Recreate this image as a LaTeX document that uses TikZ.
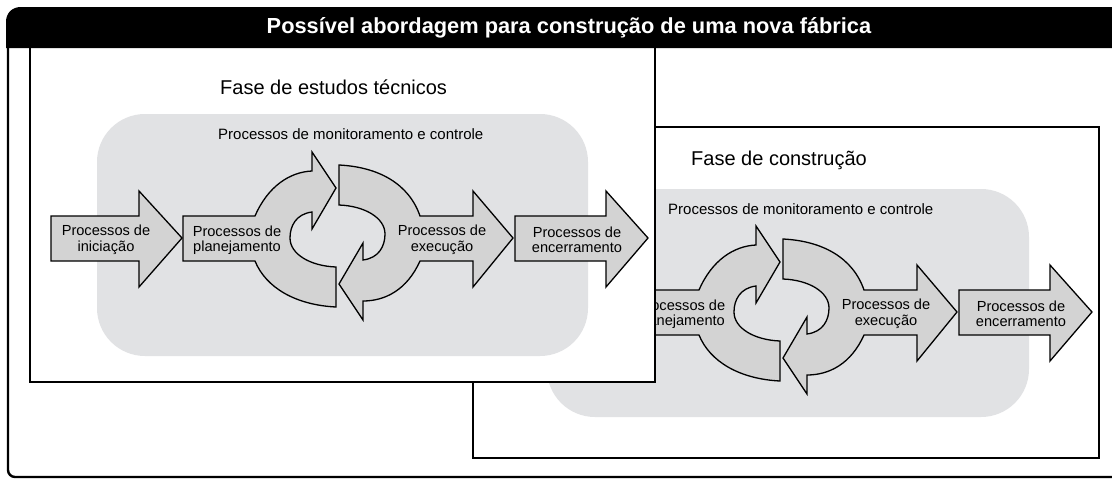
\documentclass[tikz,border=0pt]{standalone}
\usepackage{fontspec}
\setmainfont{Liberation Sans}
\definecolor{zonegray}{HTML}{E1E2E4}
\definecolor{arrowgray}{HTML}{D3D3D3}

\begin{document}
\begin{tikzpicture}[
  x=1pt, y=-1pt, line join=miter,
  frame/.style ={draw=black, line width=2.4pt},
  panel/.style ={draw=black, line width=2pt, fill=white},
  zone/.style  ={fill=zonegray, rounded corners=48},
  arr/.style   ={draw=black, line width=1.3pt, fill=arrowgray},
  lbl/.style   ={align=center, inner sep=0pt, font=\fontsize{14.6}{15.5}\selectfont},
  montxt/.style={anchor=west, inner sep=0pt, font=\fontsize{15}{17}\selectfont},
  phtxt/.style ={anchor=west, inner sep=0pt, font=\fontsize{20}{24}\selectfont},
  every node/.style={text=black}
]

\useasboundingbox (0,0) rectangle (1112,480);

% --- the five process arrows of one phase (#1 = prefix of the node names)
\def\phasearrows#1{
  % iniciacao
  \draw[arr] (51,216) -- (139,216) -- (139,191) -- (182,238) -- (139,287) -- (139,261) -- (51,261) -- cycle;
  % planejamento: tail + upper half turn
  \draw[arr] (183,216) -- (255,216) .. controls (268,186) and (290,172) .. (312,171)
    -- (312,152) -- (336,188) -- (312,229) -- (312,212)
    .. controls (296,214) and (290,226) .. (290,238)
    .. controls (290,254) and (310,266) .. (336,267) -- (336,307)
    .. controls (296,305) and (266,288) .. (255,261) -- (183,261) -- cycle;
  % execucao: lower half turn + head
  \draw[arr] (339,165) .. controls (379,167) and (409,184) .. (420,216)
    -- (473,216) -- (473,191) -- (513,238) -- (473,287) -- (473,261) -- (420,261)
    .. controls (407,290) and (385,301) .. (363,301)
    -- (363,320) -- (339,284) -- (363,243) -- (363,260)
    .. controls (379,258) and (385,246) .. (385,234)
    .. controls (385,218) and (365,206) .. (339,205) -- cycle;
  % encerramento
  \draw[arr] (515,216) -- (606,216) -- (606,191) -- (648,238) -- (606,287) -- (606,261) -- (515,261) -- cycle;
  \node[lbl] (#1-ini) at (106,240) {Processos de\\iniciação};
  \node[lbl] (#1-pla) at (237,240) {Processos de\\planejamento};
  \node[lbl] (#1-exe) at (442,240) {Processos de\\execução};
  \node[lbl] (#1-enc) at (577,240) {Processos de\\encerramento};
}

% --- Fase de construcao (behind)
\draw[panel] (473,127) rectangle (1099,458);
\path[zone] (547,189) rectangle (1029,417);
\node[phtxt]  (c-title) at (691,160) {Fase de construção};
\node[montxt] (c-mon)   at (668,209) {Processos de monitoramento e controle};
\begin{scope}[shift={(444,74)}]
  \phasearrows{c}
\end{scope}

% --- Fase de estudos tecnicos (front)
\draw[panel] (30,47) rectangle (655,382);
\path[zone] (97,114) rectangle (588,356);
\node[phtxt]  (e-title) at (220,87) {Fase de estudos técnicos};
\node[montxt] (e-mon)   at (218,134) {Processos de monitoramento e controle};
\phasearrows{e}

% --- outer frame and title bar
\draw[frame, rounded corners=7] (8,40) -- (8,477) -- (1125,477);
\fill[black] (6,48) -- (6,22) .. controls (6,13) and (12,7) .. (21,7) -- (1125,7) -- (1125,48) -- cycle;
\node[text=white, font=\bfseries\fontsize{21.8}{24}\selectfont] (title) at (569,28)
  {Possível abordagem para construção de uma nova fábrica};

\end{tikzpicture}
\end{document}
